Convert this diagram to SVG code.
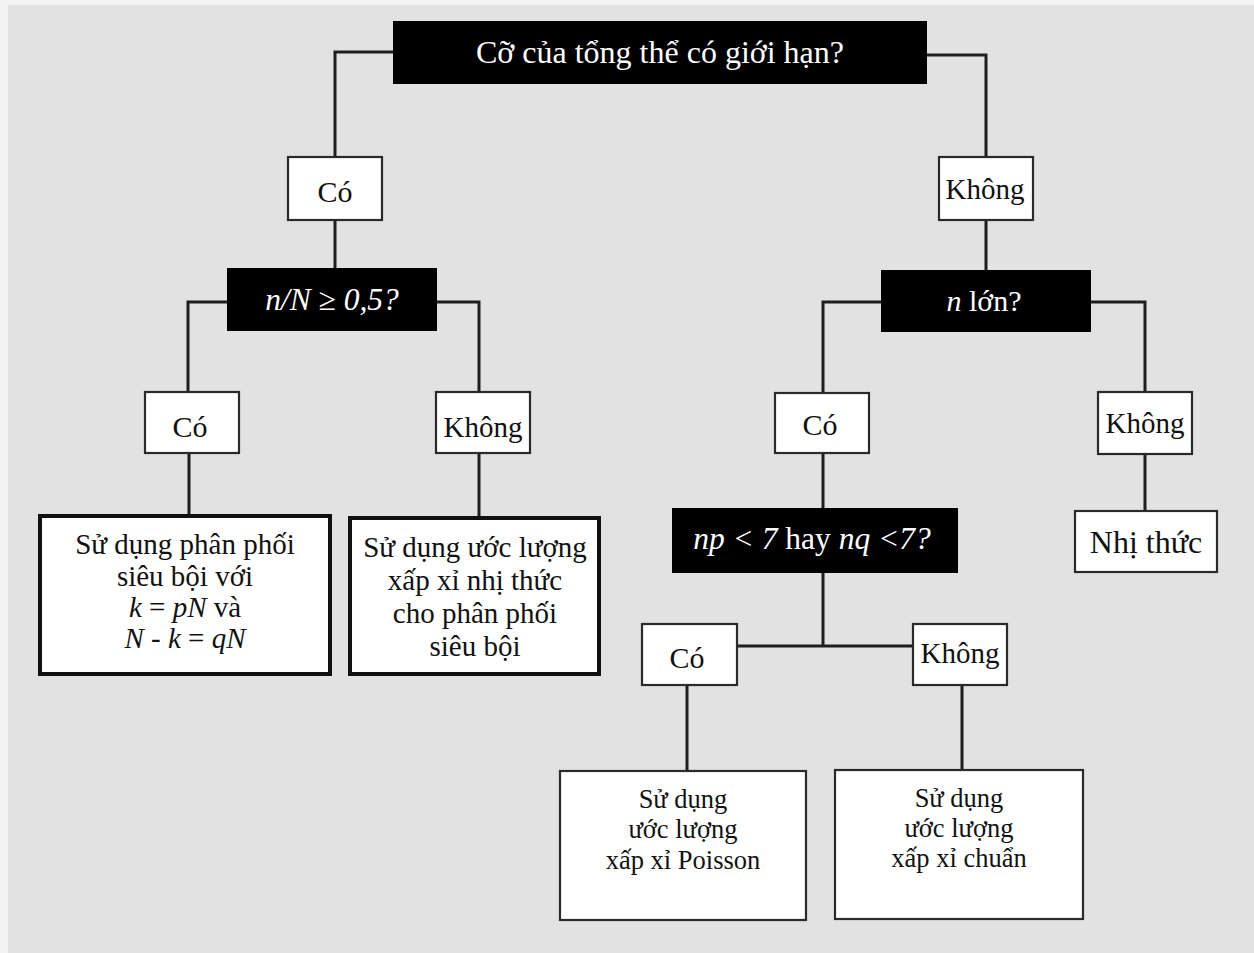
<svg xmlns="http://www.w3.org/2000/svg" width="1254" height="953" viewBox="0 0 1254 953">
<style>
.t{font-family:"Liberation Serif","Times New Roman",serif;fill:#111;text-anchor:middle}
.w{fill:#fff}
.q{fill:#000}
.lbl{fill:#fff;stroke:#2a2a2a;stroke-width:2.2}
.res{fill:#fff;stroke:#111;stroke-width:4}
.res2{fill:#fff;stroke:#2a2a2a;stroke-width:2.2}
.c{fill:none;stroke:#1e1e1e;stroke-width:3;stroke-linejoin:miter}
.i{font-style:italic}
</style>
<rect x="0" y="0" width="1254" height="953" fill="#e2e2e2"/>
<rect x="0" y="0" width="8" height="953" fill="#f4f4f4"/>
<rect x="0" y="0" width="1254" height="5" fill="#f4f4f4"/>

<g id="connectors">
<polyline class="c" points="393,52 335,52 335,157"/>
<line class="c" x1="335" y1="220" x2="335" y2="268"/>
<polyline class="c" points="927,55 986,55 986,157"/>
<line class="c" x1="986" y1="220" x2="986" y2="270"/>
<polyline class="c" points="227,302 188,302 188,392"/>
<line class="c" x1="189" y1="453" x2="189" y2="516"/>
<polyline class="c" points="437,302 479,302 479,392"/>
<line class="c" x1="479" y1="453" x2="479" y2="518"/>
<polyline class="c" points="881,302 823,302 823,393"/>
<line class="c" x1="823" y1="453" x2="823" y2="508"/>
<polyline class="c" points="1091,302 1145,302 1145,392"/>
<line class="c" x1="1145" y1="454" x2="1145" y2="511"/>
<line class="c" x1="823" y1="573" x2="823" y2="646"/>
<line class="c" x1="737" y1="646" x2="913" y2="646"/>
<line class="c" x1="687" y1="685" x2="687" y2="771"/>
<line class="c" x1="962" y1="685" x2="962" y2="770"/>
</g>

<g id="q-top">
<rect class="q" x="393" y="21" width="534" height="63"/>
<text class="t w" x="660" y="63" font-size="32">Cỡ của tổng thể có giới hạn?</text>
</g>

<g id="lbl-co-1">
<rect class="lbl" x="288" y="157" width="94" height="63"/>
<text class="t" x="335" y="202" font-size="30">Có</text>
</g>

<g id="lbl-khong-1">
<rect class="lbl" x="939" y="157" width="94" height="63"/>
<text class="t" x="985" y="199" font-size="29">Không</text>
</g>

<g id="q-ratio">
<rect class="q" x="227" y="268" width="210" height="63"/>
<text class="t w i" x="332" y="310" font-size="31.5">n/N ≥ 0,5?</text>
</g>

<g id="q-nlarge">
<rect class="q" x="881" y="270" width="210" height="62"/>
<text class="t w" x="984" y="311" font-size="30"><tspan class="i">n</tspan> lớn?</text>
</g>

<g id="lbl-co-2">
<rect class="lbl" x="145" y="392" width="94" height="61"/>
<text class="t" x="190" y="437" font-size="30">Có</text>
</g>

<g id="lbl-khong-2">
<rect class="lbl" x="436" y="392" width="94" height="61"/>
<text class="t" x="483" y="437" font-size="29">Không</text>
</g>

<g id="lbl-co-3">
<rect class="lbl" x="775" y="393" width="94" height="60"/>
<text class="t" x="820" y="435" font-size="30">Có</text>
</g>

<g id="lbl-khong-3">
<rect class="lbl" x="1098" y="392" width="94" height="62"/>
<text class="t" x="1145" y="433" font-size="29">Không</text>
</g>

<g id="res-hyper">
<rect class="res" x="40" y="516" width="290" height="158"/>
<text class="t" x="185" y="554" font-size="29">Sử dụng phân phối</text>
<text class="t" x="185" y="586" font-size="29">siêu bội với</text>
<text class="t" x="185" y="617" font-size="29"><tspan class="i">k</tspan> = <tspan class="i">pN</tspan> và</text>
<text class="t" x="185" y="648" font-size="29"><tspan class="i">N</tspan> - <tspan class="i">k</tspan> = <tspan class="i">qN</tspan></text>
</g>

<g id="res-binapprox">
<rect class="res" x="350" y="518" width="249" height="156"/>
<text class="t" x="475" y="557" font-size="29">Sử dụng ước lượng</text>
<text class="t" x="475" y="590" font-size="29">xấp xỉ nhị thức</text>
<text class="t" x="475" y="623" font-size="29">cho phân phối</text>
<text class="t" x="475" y="656" font-size="29">siêu bội</text>
</g>

<g id="q-np">
<rect class="q" x="672" y="508" width="286" height="65"/>
<text class="t w" x="812" y="549" font-size="31.5"><tspan class="i">np</tspan> <tspan class="i">&lt; 7</tspan> hay <tspan class="i">nq</tspan> <tspan class="i">&lt;7?</tspan></text>
</g>

<g id="res-binomial">
<rect class="res2" x="1075" y="511" width="142" height="61"/>
<text class="t" x="1146" y="553" font-size="32">Nhị thức</text>
</g>

<g id="lbl-co-4">
<rect class="lbl" x="642" y="624" width="95" height="61"/>
<text class="t" x="687" y="668" font-size="30">Có</text>
</g>

<g id="lbl-khong-4">
<rect class="lbl" x="913" y="624" width="94" height="61"/>
<text class="t" x="960" y="663" font-size="29">Không</text>
</g>

<g id="res-poisson">
<rect class="res2" x="560" y="771" width="246" height="149"/>
<text class="t" x="683" y="808" font-size="26.5">Sử dụng</text>
<text class="t" x="683" y="838" font-size="26.5">ước lượng</text>
<text class="t" x="683" y="869" font-size="26.5">xấp xỉ Poisson</text>
</g>

<g id="res-normal">
<rect class="res2" x="835" y="770" width="248" height="149"/>
<text class="t" x="959" y="807" font-size="26.5">Sử dụng</text>
<text class="t" x="959" y="837" font-size="26.5">ước lượng</text>
<text class="t" x="959" y="867" font-size="26.5">xấp xỉ chuẩn</text>
</g>
</svg>
